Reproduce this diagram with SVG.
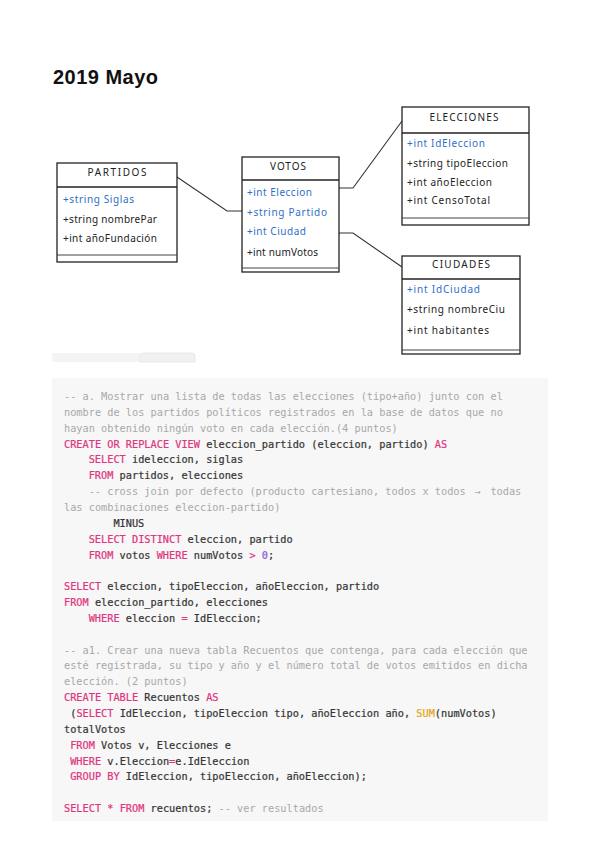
<svg xmlns="http://www.w3.org/2000/svg" width="600" height="848" viewBox="0 0 600 848">
<style>
.title{font-family:"Liberation Sans",Arial,sans-serif;font-weight:bold;font-size:20px;fill:#111}
.box{fill:#fff;stroke:#222;stroke-width:1.3}
.sep{stroke:#222;stroke-width:1.6}
.sep2{stroke:#444;stroke-width:1.1}
.hdr{font-family:"Noto Sans","DejaVu Sans",sans-serif;font-size:10px;fill:#222;text-anchor:middle}
.fld{font-family:"Noto Sans","DejaVu Sans",sans-serif;font-size:10px;fill:#222}
.key{fill:#2f6fc6}
.conn{fill:none;stroke:#333;stroke-width:1.1}
.code{font-family:"DejaVu Sans Mono","Liberation Mono",monospace;font-size:10.27px;fill:#363636;stroke:#363636;stroke-width:0.22}
.c{fill:#a8a8a8;stroke:none}
.k{fill:#e0367f;stroke:#e0367f}
.n{fill:#8660d8;stroke:#8660d8}
.y{fill:#e3a514;stroke:#e3a514}
</style>
<rect width="600" height="848" fill="#fff"/>
<text class="title" x="53" y="84" textLength="105">2019 Mayo</text>

<g id="connectors">
<path class="conn" d="M177,177 L227,211 L242,211"/>
<path class="conn" d="M339,188 L353,188 L402,121"/>
<path class="conn" d="M339,233 L353,233 L402,267"/>
</g>

<g id="partidos">
<rect class="box" x="57" y="163" width="120" height="99"/>
<line class="sep" x1="57" y1="187" x2="177" y2="187"/>
<line class="sep2" x1="57" y1="255" x2="177" y2="255"/>
<text class="hdr" x="117" y="176" textLength="59">PARTIDOS</text>
<text class="fld key" x="63" y="203" textLength="71">+string Siglas</text>
<text class="fld" x="63" y="223" textLength="94">+string nombrePar</text>
<text class="fld" x="63" y="242" textLength="94">+int añoFundación</text>
</g>

<g id="votos">
<rect class="box" x="242" y="157" width="97" height="115"/>
<line class="sep" x1="242" y1="180" x2="339" y2="180"/>
<line class="sep2" x1="242" y1="268" x2="339" y2="268"/>
<text class="hdr" x="288" y="170" textLength="36">VOTOS</text>
<text class="fld key" x="247" y="196" textLength="65">+int Eleccion</text>
<text class="fld key" x="247" y="216" textLength="80">+string Partido</text>
<text class="fld key" x="247" y="235" textLength="59">+int Ciudad</text>
<text class="fld" x="247" y="256" textLength="71">+int numVotos</text>
</g>

<g id="elecciones">
<rect class="box" x="402" y="107" width="127" height="118"/>
<line class="sep" x1="402" y1="133" x2="529" y2="133"/>
<line class="sep2" x1="402" y1="218" x2="529" y2="218"/>
<text class="hdr" x="464" y="121" textLength="69">ELECCIONES</text>
<text class="fld key" x="407" y="147" textLength="78">+int IdEleccion</text>
<text class="fld" x="407" y="167" textLength="101">+string tipoEleccion</text>
<text class="fld" x="407" y="186" textLength="85">+int añoEleccion</text>
<text class="fld" x="407" y="204" textLength="83">+int CensoTotal</text>
</g>

<g id="ciudades">
<rect class="box" x="402" y="256" width="118" height="98"/>
<line class="sep" x1="402" y1="279" x2="520" y2="279"/>
<line class="sep2" x1="402" y1="350" x2="520" y2="350"/>
<text class="hdr" x="461" y="268" textLength="58">CIUDADES</text>
<text class="fld key" x="407" y="293" textLength="73">+int IdCiudad</text>
<text class="fld" x="407" y="313" textLength="98">+string nombreCiu</text>
<text class="fld" x="407" y="334" textLength="82">+int habitantes</text>
</g>

<g id="tabs">
<rect x="52" y="353" width="88" height="9" fill="#f4f4f4"/>
<path d="M140,362 L140,356 Q140,353 143,353 L192,353 Q195,353 195,356 L195,362 Z" fill="#f1f1f1" stroke="#e6e6e6" stroke-width="0.8"/>
</g>

<g id="code">
<rect x="52" y="378" width="496" height="443" fill="#f7f7f7"/>
<g class="code" xml:space="preserve">
<text x="64" y="400" class="c">-- a. Mostrar una lista de todas las elecciones (tipo+año) junto con el</text>
<text x="64" y="415.85" class="c">nombre de los partidos políticos registrados en la base de datos que no</text>
<text x="64" y="431.7" class="c">hayan obtenido ningún voto en cada elección.(4 puntos)</text>
<text x="64" y="447.55"><tspan class="k">CREATE OR REPLACE VIEW</tspan> eleccion_partido (eleccion, partido) <tspan class="k">AS</tspan></text>
<text x="88.7" y="463.4"><tspan class="k">SELECT</tspan> ideleccion, siglas</text>
<text x="88.7" y="479.25"><tspan class="k">FROM</tspan> partidos, elecciones</text>
<text x="88.7" y="495.1" class="c">-- cross join por defecto (producto cartesiano, todos x todos <tspan x="474.5">→</tspan><tspan x="490.4">todas</tspan></text>
<text x="64" y="510.95" class="c">las combinaciones eleccion-partido)</text>
<text x="113.4" y="526.8">MINUS</text>
<text x="88.7" y="542.65"><tspan class="k">SELECT DISTINCT</tspan> eleccion, partido</text>
<text x="88.7" y="558.5"><tspan class="k">FROM</tspan> votos <tspan class="k">WHERE</tspan> numVotos <tspan class="k">&gt;</tspan> <tspan class="n">0</tspan>;</text>
<text x="64" y="590.2"><tspan class="k">SELECT</tspan> eleccion, tipoEleccion, añoEleccion, partido</text>
<text x="64" y="606.05"><tspan class="k">FROM</tspan> eleccion_partido, elecciones</text>
<text x="88.7" y="621.9"><tspan class="k">WHERE</tspan> eleccion <tspan class="k">=</tspan> IdEleccion;</text>
<text x="64" y="653.6" class="c">-- a1. Crear una nueva tabla Recuentos que contenga, para cada elección que</text>
<text x="64" y="669.45" class="c">esté registrada, su tipo y año y el número total de votos emitidos en dicha</text>
<text x="64" y="685.3" class="c">elección. (2 puntos)</text>
<text x="64" y="701.15"><tspan class="k">CREATE TABLE</tspan> Recuentos <tspan class="k">AS</tspan></text>
<text x="70.2" y="717">(<tspan class="k">SELECT</tspan> IdEleccion, tipoEleccion tipo, añoEleccion año, <tspan class="y">SUM</tspan>(numVotos)</text>
<text x="64" y="732.85">totalVotos</text>
<text x="70.2" y="748.7"><tspan class="k">FROM</tspan> Votos v, Elecciones e</text>
<text x="70.2" y="764.55"><tspan class="k">WHERE</tspan> v.Eleccion<tspan class="k">=</tspan>e.IdEleccion</text>
<text x="70.2" y="780.4"><tspan class="k">GROUP BY</tspan> IdEleccion, tipoEleccion, añoEleccion);</text>
<text x="64" y="812.1"><tspan class="k">SELECT</tspan> <tspan class="k">*</tspan> <tspan class="k">FROM</tspan> recuentos; <tspan class="c">-- ver resultados</tspan></text>
</g>
</g>
</svg>
